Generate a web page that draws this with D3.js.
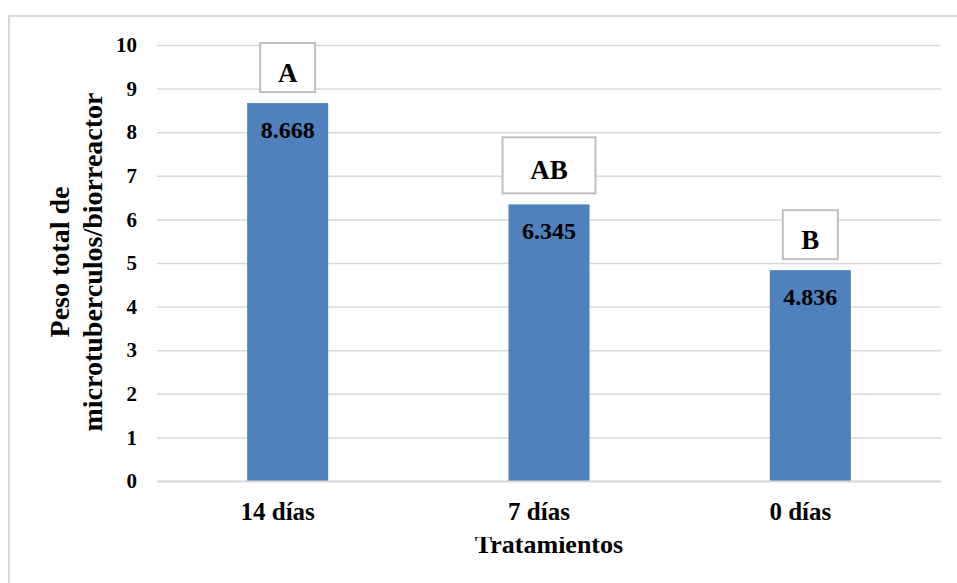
<!DOCTYPE html>
<html lang="es">
<meta charset="utf-8">
<head>
    <script src="https://d3js.org/d3.v7.min.js"></script>
    <style>
        body { margin: 0; background: #fff; }
        text { font-family: "Liberation Serif", "Times New Roman", serif; font-weight: bold; fill: #000; }
    </style>
</head>
<body>
<script>
// data
const categories = ["14 días", "7 días", "0 días"];
const values = [8.668, 6.345, 4.836];
const letters = ["A", "AB", "B"];
const yTicks = [0, 1, 2, 3, 4, 5, 6, 7, 8, 9, 10];

const W = 957, H = 583;
const margin = {top: 45, right: 16, bottom: 102, left: 157};

const svg = d3.select("body").append("svg")
    .attr("width", W)
    .attr("height", H);

// outer frame of the chart area
svg.append("rect")
    .attr("x", 9).attr("y", 16)
    .attr("width", 970).attr("height", 620)
    .attr("fill", "none")
    .attr("stroke", "#d9d9d9")
    .attr("stroke-width", 2);

const x = d3.scaleBand()
    .domain(categories)
    .range([margin.left, W - margin.right])
    .paddingInner(0.69)
    .paddingOuter(0.345);

const y = d3.scaleLinear()
    .domain([0, 10])
    .range([H - margin.bottom, margin.top]);

// gridlines
svg.append("g")
    .attr("transform", "translate(" + margin.left + ",0)")
    .call(d3.axisLeft(y).tickValues(yTicks).tickSize(-(W - margin.right - margin.left)).tickFormat(""))
    .call(g => g.select(".domain").remove())
    .call(g => g.selectAll("line").attr("stroke", "#d9d9d9").attr("stroke-width", 1.5));

// y tick labels
svg.append("g")
    .attr("transform", "translate(" + margin.left + ",0)")
    .call(d3.axisLeft(y).tickValues(yTicks).tickSize(0).tickPadding(20))
    .call(g => g.select(".domain").remove())
    .call(g => g.selectAll("text").attr("font-size", 21).attr("font-family", null));

// bars
svg.selectAll("rect.bar")
    .data(values)
    .enter().append("rect")
    .attr("class", "bar")
    .attr("x", (d, i) => x(categories[i]))
    .attr("y", d => y(d))
    .attr("width", x.bandwidth())
    .attr("height", d => y(0) - y(d))
    .attr("fill", "#4f81bd");

// x axis
svg.append("g")
    .attr("transform", "translate(0," + y(0) + ")")
    .call(d3.axisBottom(x).tickSize(0).tickPadding(21))
    .call(g => g.select(".domain").attr("stroke", "#d9d9d9").attr("stroke-width", 2))
    .call(g => g.selectAll("text").attr("font-size", 25).attr("font-family", null)
        .attr("dx", -10));

// value labels inside bars
svg.selectAll("text.val")
    .data(values)
    .enter().append("text")
    .attr("class", "val")
    .attr("x", (d, i) => x(categories[i]) + x.bandwidth() / 2)
    .attr("y", d => y(d) + 35)
    .attr("text-anchor", "middle")
    .attr("font-size", 24)
    .text(d => d.toFixed(3));

// significance letters in boxes
const boxW = s => s.length > 1 ? 93 : 55;
const boxH = s => s.length > 1 ? 56 : 49;
const lab = svg.selectAll("g.letter")
    .data(letters)
    .enter().append("g")
    .attr("class", "letter");
lab.append("rect")
    .attr("x", (d, i) => x(categories[i]) + x.bandwidth() / 2 - boxW(d) / 2)
    .attr("y", (d, i) => y(values[i]) - 11 - boxH(d))
    .attr("width", d => boxW(d))
    .attr("height", d => boxH(d))
    .attr("fill", "#fff")
    .attr("stroke", "#bfbfbf")
    .attr("stroke-width", 2);
lab.append("text")
    .attr("x", (d, i) => x(categories[i]) + x.bandwidth() / 2)
    .attr("y", (d, i) => y(values[i]) - 11 - boxH(d) / 2 + 14)
    .attr("text-anchor", "middle")
    .attr("font-size", 27)
    .text(d => d);

// y axis title (two lines)
const yt = svg.append("text")
    .attr("transform", "translate(69,262) rotate(-90)")
    .attr("text-anchor", "middle")
    .attr("font-size", 28);
yt.append("tspan").attr("x", 0).attr("y", 0).text("Peso total de");
yt.append("tspan").attr("x", 0).attr("y", 33).text("microtuberculos/biorreactor");

// x axis title, partly hidden like in the original
svg.append("clipPath").attr("id", "xclip")
    .append("rect").attr("x", 400).attr("y", 537).attr("width", 300).attr("height", 19);
svg.append("text")
    .attr("clip-path", "url(#xclip)")
    .attr("x", 549)
    .attr("y", 553)
    .attr("text-anchor", "middle")
    .attr("font-size", 26)
    .text("Tratamientos");
</script>
</body>
</html>
